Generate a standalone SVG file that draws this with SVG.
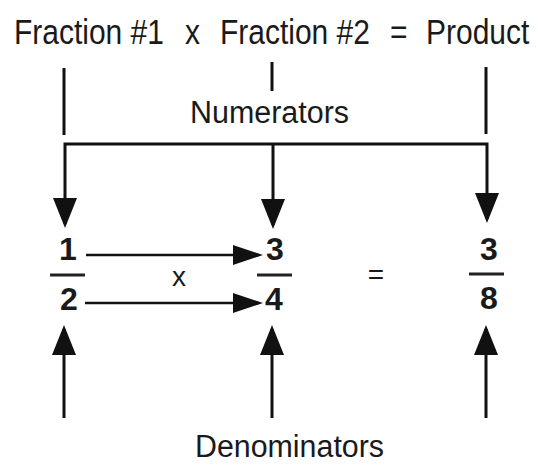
<svg xmlns="http://www.w3.org/2000/svg" width="538" height="470" viewBox="0 0 538 470">
<style>
.t{font-family:"Liberation Sans",Arial,sans-serif;fill:#1a1a1a}
.title{font-size:30px}
.lbl{font-size:31px}
.num{font-size:32px;font-weight:bold;text-anchor:middle}
.ln{stroke:#111;stroke-width:3;fill:none}
.ha{stroke:#111;stroke-width:2.5;fill:none}
.bar{stroke:#222;stroke-width:3}
</style>
<defs>
<marker id="av" markerUnits="userSpaceOnUse" markerWidth="32" markerHeight="26" refX="26" refY="12" orient="auto-start-reverse" viewBox="0 0 32 26">
<path d="M0,0 L30,12 L0,24 z" fill="#111"/>
</marker>
<marker id="ah" markerUnits="userSpaceOnUse" markerWidth="32" markerHeight="22" refX="26" refY="10" orient="auto" viewBox="0 0 32 22">
<path d="M0,0 L30,10 L0,20 z" fill="#111"/>
</marker>
</defs>
<g id="title" transform="translate(0,44) scale(1,1.17)">
<text class="t title" x="14" y="0">Fraction #1</text>
<text class="t title" x="185" y="0">x</text>
<text class="t title" x="220" y="0">Fraction #2</text>
<text class="t title" x="390" y="0">=</text>
<text class="t title" x="426" y="0">Product</text>
</g>
<g id="numerators-label">
<text class="t lbl" x="190" y="123" textLength="159" lengthAdjust="spacingAndGlyphs">Numerators</text>
</g>
<g id="denominators-label">
<text class="t lbl" x="195" y="457" textLength="189" lengthAdjust="spacingAndGlyphs">Denominators</text>
</g>
<g id="fraction1">
<text class="t num" x="68" y="260">1</text>
<line class="bar" x1="50" y1="275" x2="85" y2="275"/>
<text class="t num" x="69" y="310">2</text>
</g>
<g id="fraction2">
<text class="t num" x="275" y="260">3</text>
<line class="bar" x1="257" y1="275" x2="292" y2="275"/>
<text class="t num" x="274" y="310">4</text>
</g>
<g id="product">
<text class="t num" x="489" y="260">3</text>
<line class="bar" x1="469" y1="274" x2="504" y2="274"/>
<text class="t num" x="489" y="309">8</text>
</g>
<g id="operators">
<text class="t" x="179" y="286" font-size="28" text-anchor="middle">x</text>
<text class="t" x="376" y="284" font-size="28" text-anchor="middle">=</text>
</g>
<g id="connectors">
<line class="ln" x1="64" y1="68" x2="64" y2="135"/>
<line class="ln" x1="272" y1="62" x2="272" y2="91"/>
<line class="ln" x1="486" y1="67" x2="486" y2="134"/>
<path class="ln" d="M65,224 V144 H487 V219" marker-start="url(#av)" marker-end="url(#av)"/>
<path class="ln" d="M273,144 V225" marker-end="url(#av)"/>
<path class="ha" d="M86,255 H259" marker-end="url(#ah)"/>
<path class="ha" d="M85,303 H259" marker-end="url(#ah)"/>
<path class="ln" d="M64,418 V329" marker-end="url(#av)"/>
<path class="ln" d="M272,418 V329" marker-end="url(#av)"/>
<path class="ln" d="M486,418 V329" marker-end="url(#av)"/>
</g>
</svg>
